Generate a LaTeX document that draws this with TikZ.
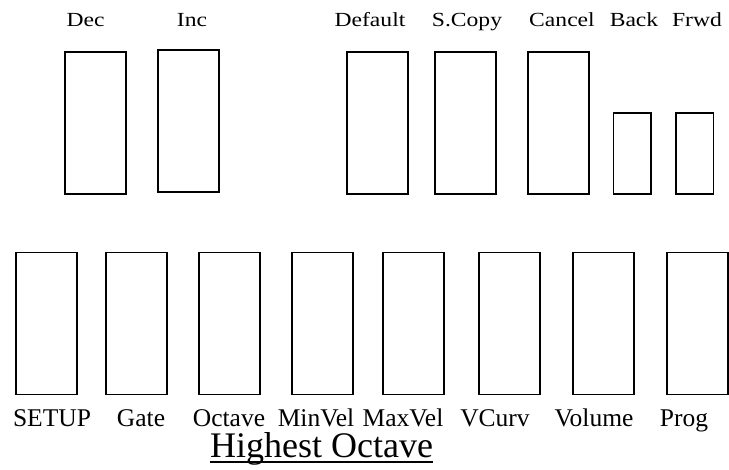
\documentclass[tikz,border=0pt]{standalone}
\usepackage{fontspec}
\setmainfont{Liberation Serif}
\newfontfamily\widefont[FakeStretch=1.18]{Liberation Serif}
\usepackage{tikz}

\begin{document}
\begin{tikzpicture}[x=1pt, y=-1pt,
  key/.style={draw=black, line width=1.5pt, fill=white, inner sep=0pt, minimum width=61pt, minimum height=142pt},
  smallkey/.style={key, minimum width=37.5pt, minimum height=81pt},
  toplabel/.style={anchor=base, inner sep=0pt, font=\widefont\fontsize{20}{24}\selectfont},
  botlabel/.style={anchor=base, inner sep=0pt, font=\fontsize{25.5}{30}\selectfont}]
\useasboundingbox (0,0) rectangle (729,470);
\node[key] (dec) at (95.5,123) {};
\node[key] (inc) at (188.5,121) {};
\node[key] (default) at (377.5,123) {};
\node[key] (scopy) at (465.5,123) {};
\node[key] (cancel) at (558.5,123) {};
\node[smallkey] (back) at (632,153.5) {};
\node[smallkey] (frwd) at (694.5,153.5) {};
\node[key] (setup) at (46.5,323.5) {};
\node[key] (gate) at (136.5,323.5) {};
\node[key] (octave) at (229.5,323.5) {};
\node[key] (minvel) at (322.5,323.5) {};
\node[key] (maxvel) at (413.5,323.5) {};
\node[key] (vcurv) at (509.5,323.5) {};
\node[key] (volume) at (603.5,323.5) {};
\node[key] (prog) at (697.5,323.5) {};
\node[toplabel] (decl) at (85.5,27) {Dec};
\node[toplabel] (incl) at (192,27) {Inc};
\node[toplabel] (defaultl) at (370,27) {Default};
\node[toplabel] (scopyl) at (467,27) {S.Copy};
\node[toplabel] (cancell) at (562,27) {Cancel};
\node[toplabel] (backl) at (634,27) {Back};
\node[toplabel] (frwdl) at (697,27) {Frwd};
\node[botlabel] (setupl) at (52,427) {SETUP};
\node[botlabel] (gatel) at (141,427) {Gate};
\node[botlabel] (octavel) at (229,427) {Octave};
\node[botlabel] (minvell) at (316,427) {MinVel};
\node[botlabel] (maxvell) at (403,427) {MaxVel};
\node[botlabel] (vcurvl) at (495,427) {VCurv};
\node[botlabel] (volumel) at (594,427) {Volume};
\node[botlabel] (progl) at (684,427) {Prog};
\node[anchor=base, inner sep=0pt, font=\fontsize{36}{42}\selectfont] (title) at (321.5,457) {Highest Octave};
\draw[line width=2pt] ([yshift=-5pt]title.base west) -- ([yshift=-5pt]title.base east);
\end{tikzpicture}
\end{document}
